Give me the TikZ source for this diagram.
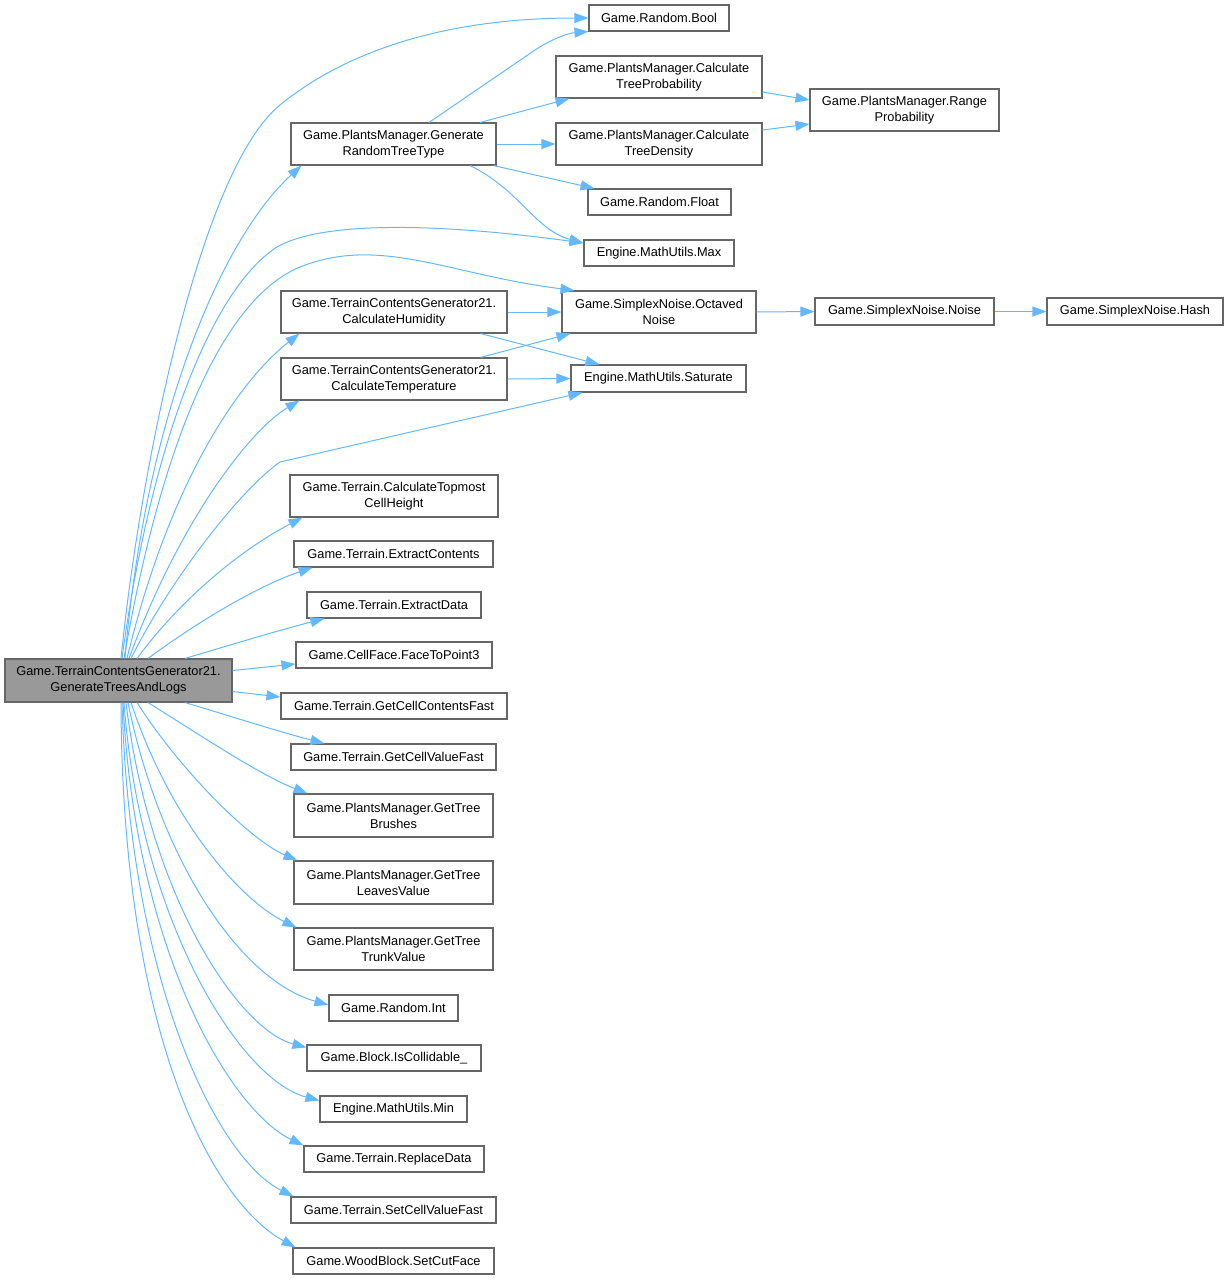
\documentclass[tikz,border=0pt]{standalone}
\usepackage{fontspec}
\setmainfont{Liberation Sans}
\usetikzlibrary{arrows.meta}
\definecolor{edgeblue}{HTML}{63B8FF}
\definecolor{boxgray}{HTML}{666666}
\definecolor{mainfill}{HTML}{999999}
\begin{document}
\begin{tikzpicture}[x=1pt,y=-1pt,
  box/.style={draw=boxgray,line width=1.1pt,fill=white,inner sep=0pt,align=center,
    font=\fontsize{12.8}{16}\selectfont},
  mainbox/.style={box,fill=mainfill},
  edge/.style={draw=edgeblue,line width=1pt,-{Triangle[length=14pt,width=10pt]}}]
\useasboundingbox (0,0) rectangle (1229,1280);
% nodes
\node[mainbox,minimum width=227pt,minimum height=43pt] (main) at (118.5,680.5) {Game.TerrainContentsGenerator21.\\GenerateTreesAndLogs};
\node[box,minimum width=140pt,minimum height=26pt] (bool) at (659,18) {Game.Random.Bool};
\node[box,minimum width=206pt,minimum height=42pt] (ctp) at (659,77) {Game.PlantsManager.Calculate\\TreeProbability};
\node[box,minimum width=189pt,minimum height=42pt] (rp) at (904.5,110) {Game.PlantsManager.Range\\Probability};
\node[box,minimum width=205pt,minimum height=42pt] (grt) at (393.5,144) {Game.PlantsManager.Generate\\RandomTreeType};
\node[box,minimum width=206pt,minimum height=42pt] (ctd) at (659,144) {Game.PlantsManager.Calculate\\TreeDensity};
\node[box,minimum width=143pt,minimum height=26pt] (flt) at (659.5,202) {Game.Random.Float};
\node[box,minimum width=150pt,minimum height=26pt] (max) at (659,253) {Engine.MathUtils.Max};
\node[box,minimum width=226pt,minimum height=42pt] (hum) at (394,312) {Game.TerrainContentsGenerator21.\\CalculateHumidity};
\node[box,minimum width=194pt,minimum height=42pt] (oct) at (659,312) {Game.SimplexNoise.Octaved\\Noise};
\node[box,minimum width=179pt,minimum height=27pt] (noise) at (904.5,311.5) {Game.SimplexNoise.Noise};
\node[box,minimum width=176pt,minimum height=27pt] (hash) at (1135,311.5) {Game.SimplexNoise.Hash};
\node[box,minimum width=226pt,minimum height=42pt] (temp) at (394,379) {Game.TerrainContentsGenerator21.\\CalculateTemperature};
\node[box,minimum width=175pt,minimum height=27pt] (sat) at (658.5,378.5) {Engine.MathUtils.Saturate};
\node[box,minimum width=208pt,minimum height=42pt] (topm) at (394,496) {Game.Terrain.CalculateTopmost\\CellHeight};
\node[box,minimum width=199pt,minimum height=26pt] (exc) at (393.5,554) {Game.Terrain.ExtractContents};
\node[box,minimum width=174pt,minimum height=26pt] (exd) at (394,605) {Game.Terrain.ExtractData};
\node[box,minimum width=196pt,minimum height=26pt] (f2p) at (394,655) {Game.CellFace.FaceToPoint3};
\node[box,minimum width=226pt,minimum height=26pt] (gccf) at (394,706) {Game.Terrain.GetCellContentsFast};
\node[box,minimum width=205pt,minimum height=26pt] (gcvf) at (393.5,757) {Game.Terrain.GetCellValueFast};
\node[box,minimum width=199pt,minimum height=43pt] (brush) at (393.5,815.5) {Game.PlantsManager.GetTree\\Brushes};
\node[box,minimum width=199pt,minimum height=43pt] (leaves) at (393.5,882.5) {Game.PlantsManager.GetTree\\LeavesValue};
\node[box,minimum width=199pt,minimum height=42pt] (trunk) at (393.5,949) {Game.PlantsManager.GetTree\\TrunkValue};
\node[box,minimum width=129pt,minimum height=26pt] (rint) at (393.5,1008) {Game.Random.Int};
\node[box,minimum width=174pt,minimum height=26pt] (coll) at (394,1058) {Game.Block.IsCollidable\_};
\node[box,minimum width=147pt,minimum height=26pt] (min) at (393.5,1109) {Engine.MathUtils.Min};
\node[box,minimum width=180pt,minimum height=26pt] (repl) at (394,1159) {Game.Terrain.ReplaceData};
\node[box,minimum width=205pt,minimum height=26pt] (scvf) at (393.5,1210) {Game.Terrain.SetCellValueFast};
\node[box,minimum width=201pt,minimum height=26pt] (cut) at (393.5,1261) {Game.WoodBlock.SetCutFace};
% edges from main (upward)
\draw[edge] ([xshift=2.5pt]main.north) .. controls (140,470) and (200,170) .. (280,105) .. controls (360,40) and (470,18) .. (bool.west);
\draw[edge] ([xshift=6.5pt]main.north) .. controls (145,420) and (220,240) .. ([xshift=11pt]grt.south west);
\draw[edge] ([xshift=3.5pt]main.north) .. controls (150,450) and (210,290) .. (277,247) .. controls (320,222) and (430,222) .. ([yshift=10pt]max.west);
\draw[edge] ([xshift=5.5pt]main.north) .. controls (160,450) and (220,300) .. (300,267) .. controls (380,235) and (450,275) .. ([xshift=13pt]oct.north west);
\draw[edge] ([xshift=8.5pt]main.north) .. controls (170,480) and (240,380) .. ([xshift=19pt]hum.south west);
\draw[edge] ([xshift=10.5pt]main.north) .. controls (180,520) and (250,430) .. ([xshift=19pt]temp.south west);
\draw[edge] ([xshift=12.5pt]main.north) .. controls (170,580) and (240,490) .. (280,462) -- ([xshift=12pt]sat.south west);
\draw[edge] ([xshift=18.5pt]main.north) .. controls (180,600) and (240,550) .. ([xshift=13pt]topm.south west);
\draw[edge] ([xshift=29.5pt]main.north) .. controls (200,620) and (260,585) .. ([xshift=19pt]exc.south west);
\draw[edge] ([xshift=66.5pt]main.north) .. controls (230,645) and (280,630) .. ([xshift=18pt]exd.south west);
\draw[edge] ([yshift=10pt]main.east) -- ([yshift=-9pt]f2p.west);
\draw[edge] ([yshift=-11pt]main.east) -- ([yshift=9pt]gccf.west);
% edges from main (downward)
\draw[edge] ([xshift=66.5pt]main.south) .. controls (230,716) and (280,732) .. ([xshift=34pt]gcvf.north west);
\draw[edge] ([xshift=29.5pt]main.south) .. controls (200,735) and (260,775) .. ([xshift=14pt]brush.north west);
\draw[edge] ([xshift=18.5pt]main.south) .. controls (180,770) and (250,840) .. ([xshift=4pt]leaves.north west);
\draw[edge] ([xshift=12.5pt]main.south) .. controls (170,820) and (240,900) .. ([xshift=3pt]trunk.north west);
\draw[edge] ([xshift=9.5pt]main.south) .. controls (160,860) and (240,980) .. ([yshift=3pt]rint.west);
\draw[edge] ([xshift=7.5pt]main.south) .. controls (150,900) and (240,1030) .. ([yshift=-3pt]coll.north west);
\draw[edge] ([xshift=5.5pt]main.south) .. controls (140,920) and (240,1080) .. ([yshift=-5pt]min.north west);
\draw[edge] ([xshift=4.5pt]main.south) .. controls (135,950) and (230,1110) .. (repl.north west);
\draw[edge] ([xshift=3.5pt]main.south) .. controls (130,990) and (220,1160) .. ([xshift=3pt]scvf.north west);
\draw[edge] ([xshift=2.5pt]main.south) .. controls (122,1030) and (210,1200) .. ([xshift=3pt]cut.north west);
% other edges
\draw[edge] ([xshift=35.5pt]grt.north) -- (535,50) .. controls (555,37) and (570,33) .. (bool.south west);
\draw[edge] ([xshift=86.5pt]grt.north) -- ([xshift=14pt]ctp.south west);
\draw[edge] (grt.east) -- (ctd.west);
\draw[edge] ([xshift=-3pt]grt.south east) -- ([xshift=7pt]flt.north west);
\draw[edge] ([xshift=76.5pt]grt.south) .. controls (520,190) and (535,230) .. ([yshift=10pt]max.west);
\draw[edge] ([yshift=-15pt]ctp.east) -- ([yshift=10pt]rp.west);
\draw[edge] ([yshift=14pt]ctd.east) -- ([yshift=-14pt]rp.west);
\draw[edge] (hum.east) -- (oct.west);
\draw[edge] ([xshift=-27pt]hum.south east) -- ([xshift=29pt]sat.north west);
\draw[edge] ([xshift=-27pt]temp.north east) -- ([xshift=9pt]oct.south west);
\draw[edge] (temp.east) -- (sat.west);
\draw[edge] (oct.east) -- (noise.west);
\draw[edge] (noise.east) -- (hash.west);
\end{tikzpicture}
\end{document}
